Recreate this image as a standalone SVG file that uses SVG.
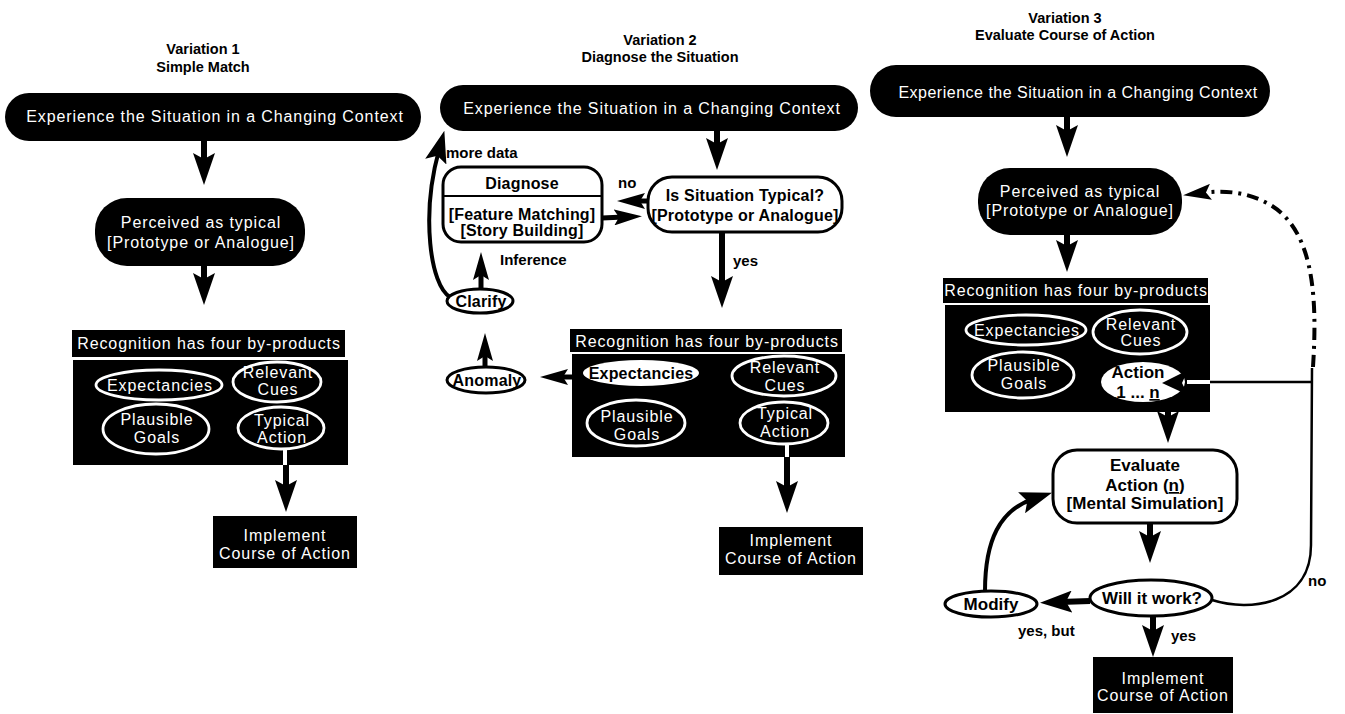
<svg xmlns="http://www.w3.org/2000/svg" width="1345" height="714" viewBox="0 0 1345 714">
<defs>
<style>
.title{font-family:"Liberation Sans",Arial,sans-serif;font-weight:bold;font-size:14.5px;text-anchor:middle;fill:#000}
.wt{font-family:"Liberation Sans",Arial,sans-serif;font-size:16px;letter-spacing:0.9px;fill:#fff;text-anchor:middle}
.bt{font-family:"Liberation Sans",Arial,sans-serif;font-weight:bold;font-size:16px;letter-spacing:0.2px;fill:#000;text-anchor:middle}
.bt3{font-family:"Liberation Sans",Arial,sans-serif;font-weight:bold;font-size:17px;fill:#000;text-anchor:middle}
.lbl{font-family:"Liberation Sans",Arial,sans-serif;font-weight:bold;font-size:15px;fill:#000}
.blk{fill:#000}
.wov{fill:none;stroke:#fff;stroke-width:2.8}
.wfill{fill:#fff;stroke:none}
.bbox{fill:#fff;stroke:#000;stroke-width:3}
.arr{stroke:#000;stroke-width:6;fill:none;marker-end:url(#ah)}
.arrs{stroke:#000;stroke-width:5;fill:none;marker-end:url(#ahs)}
.crv{stroke:#000;stroke-width:4;fill:none;marker-end:url(#ah)}
.thin{stroke:#000;stroke-width:2.5;fill:none}
.wstub{stroke:#fff;stroke-width:4;fill:none}
.dd{stroke:#000;stroke-width:4;fill:none;stroke-dasharray:12 6 3 6;marker-end:url(#ahs)}
</style>
<marker id="ah" markerUnits="userSpaceOnUse" markerWidth="32" markerHeight="22" refX="12" refY="11" orient="auto"><path d="M0,0 L32,11 L0,22 L6,11 Z" fill="#000"/></marker>
<marker id="ahs" markerUnits="userSpaceOnUse" markerWidth="28" markerHeight="16" refX="10" refY="8" orient="auto"><path d="M0,0 L28,8 L0,16 L5,8 Z" fill="#000"/></marker>
</defs>
<rect width="1345" height="714" fill="#fff"/>

<!-- ===== Variation 1 ===== -->
<g id="v1-title">
<text class="title" x="203" y="54">Variation 1</text>
<text class="title" x="203" y="72">Simple Match</text>
</g>
<g id="v1-experience">
<rect class="blk" x="5" y="93" width="416" height="48" rx="24"/>
<text class="wt" x="215" y="122">Experience the Situation in a Changing Context</text>
</g>
<g id="v1-perceived">
<rect class="blk" x="95" y="198" width="210" height="68" rx="32"/>
<text class="wt" x="201" y="228">Perceived as typical</text>
<text class="wt" x="201" y="248">[Prototype or Analogue]</text>
</g>
<g id="v1-recognition">
<rect class="blk" x="72" y="330" width="273" height="27"/>
<text class="wt" x="209" y="349">Recognition has four by-products</text>
<rect class="blk" x="73" y="360" width="275" height="105"/>
<g id="v1-expectancies"><ellipse class="wov" cx="159" cy="385" rx="63" ry="15"/><text class="wt" x="160" y="391">Expectancies</text></g>
<g id="v1-cues"><ellipse class="wov" cx="277" cy="382" rx="44" ry="20"/><text class="wt" x="278" y="378">Relevant</text><text class="wt" x="278" y="395">Cues</text></g>
<g id="v1-goals"><ellipse class="wov" cx="156" cy="429" rx="53" ry="25"/><text class="wt" x="157" y="425">Plausible</text><text class="wt" x="157" y="443">Goals</text></g>
<g id="v1-action"><ellipse class="wov" cx="281" cy="428" rx="43" ry="21"/><text class="wt" x="282" y="426">Typical</text><text class="wt" x="282" y="443">Action</text></g>
</g>
<g id="v1-implement">
<rect class="blk" x="213" y="516" width="144" height="52"/>
<text class="wt" x="285" y="541">Implement</text>
<text class="wt" x="285" y="559">Course of Action</text>
</g>

<!-- ===== Variation 2 ===== -->
<g id="v2-title">
<text class="title" x="660" y="45">Variation 2</text>
<text class="title" x="660" y="62">Diagnose the Situation</text>
</g>
<g id="v2-experience">
<rect class="blk" x="440" y="85" width="418" height="46" rx="23"/>
<text class="wt" x="652" y="114">Experience the Situation in a Changing Context</text>
</g>
<g id="v2-diagnose">
<rect class="bbox" x="443" y="167" width="159" height="75" rx="18"/>
<line x1="443" y1="196" x2="602" y2="196" stroke="#000" stroke-width="2"/>
<text class="bt" x="522" y="189">Diagnose</text>
<text class="bt" x="522" y="220">[Feature Matching]</text>
<text class="bt" x="522" y="236">[Story Building]</text>
</g>
<g id="v2-typical">
<rect class="bbox" x="648" y="177" width="194" height="55" rx="24"/>
<text class="bt" x="745" y="201">Is Situation Typical?</text>
<text class="bt" x="745" y="221">[Prototype or Analogue]</text>
</g>
<g id="v2-clarify">
<ellipse class="bbox" cx="480" cy="301" rx="33" ry="12"/>
<text class="bt" x="481" y="307">Clarify</text>
</g>
<g id="v2-anomaly">
<ellipse class="bbox" cx="486" cy="380" rx="39" ry="13"/>
<text class="bt" x="487" y="386">Anomaly</text>
</g>
<g id="v2-recognition">
<rect class="blk" x="570" y="329" width="272" height="23"/>
<text class="wt" x="707" y="347">Recognition has four by-products</text>
<rect class="blk" x="572" y="354" width="273" height="103"/>
<g id="v2-expectancies"><ellipse class="wfill" cx="641" cy="373" rx="58" ry="13"/><text class="bt" x="641" y="379">Expectancies</text></g>
<g id="v2-cues"><ellipse class="wov" cx="784" cy="376" rx="52" ry="20"/><text class="wt" x="785" y="373">Relevant</text><text class="wt" x="785" y="391">Cues</text></g>
<g id="v2-goals"><ellipse class="wov" cx="636" cy="423" rx="49" ry="23"/><text class="wt" x="637" y="422">Plausible</text><text class="wt" x="637" y="440">Goals</text></g>
<g id="v2-action"><ellipse class="wov" cx="784" cy="423" rx="44" ry="21"/><text class="wt" x="785" y="419">Typical</text><text class="wt" x="785" y="437">Action</text></g>
</g>
<g id="v2-implement">
<rect class="blk" x="719" y="527" width="144" height="48"/>
<text class="wt" x="791" y="546">Implement</text>
<text class="wt" x="791" y="564">Course of Action</text>
</g>

<!-- ===== Variation 3 ===== -->
<g id="v3-title">
<text class="title" x="1065" y="23">Variation 3</text>
<text class="title" x="1065" y="40">Evaluate Course of Action</text>
</g>
<g id="v3-experience">
<rect class="blk" x="870" y="65" width="400" height="52" rx="26"/>
<text class="wt" x="1078" y="98" style="letter-spacing:0.5px">Experience the Situation in a Changing Context</text>
</g>
<g id="v3-perceived">
<rect class="blk" x="978" y="168" width="204" height="67" rx="32"/>
<text class="wt" x="1080" y="197">Perceived as typical</text>
<text class="wt" x="1080" y="216">[Prototype or Analogue]</text>
</g>
<g id="v3-recognition">
<rect class="blk" x="943" y="278" width="265" height="25"/>
<text class="wt" x="1076" y="296">Recognition has four by-products</text>
<rect class="blk" x="945" y="305" width="265" height="107"/>
<g id="v3-expectancies"><ellipse class="wov" cx="1026" cy="330" rx="60" ry="15"/><text class="wt" x="1027" y="336">Expectancies</text></g>
<g id="v3-cues"><ellipse class="wov" cx="1140" cy="332" rx="47" ry="22"/><text class="wt" x="1141" y="330">Relevant</text><text class="wt" x="1141" y="346">Cues</text></g>
<g id="v3-goals"><ellipse class="wov" cx="1023" cy="375" rx="51" ry="23"/><text class="wt" x="1024" y="371">Plausible</text><text class="wt" x="1024" y="389">Goals</text></g>
<g id="v3-action"><ellipse class="wfill" cx="1143" cy="382" rx="42" ry="20"/><text class="bt3" x="1138" y="378">Action</text><text class="bt3" x="1138" y="398">1 ... <tspan text-decoration="underline">n</tspan></text></g>
</g>
<g id="v3-evaluate">
<rect class="bbox" x="1053" y="450" width="184" height="73" rx="24"/>
<text class="bt3" x="1145" y="471">Evaluate</text>
<text class="bt3" x="1145" y="491">Action (<tspan text-decoration="underline">n</tspan>)</text>
<text class="bt3" x="1145" y="509">[Mental Simulation]</text>
</g>
<g id="v3-willwork">
<ellipse class="bbox" cx="1151" cy="598" rx="61" ry="18"/>
<text class="bt3" x="1152" y="604">Will it work?</text>
</g>
<g id="v3-modify">
<ellipse class="bbox" cx="991" cy="604" rx="46" ry="13"/>
<text class="bt3" x="991" y="610">Modify</text>
</g>
<g id="v3-implement">
<rect class="blk" x="1093" y="657" width="140" height="56"/>
<text class="wt" x="1163" y="684">Implement</text>
<text class="wt" x="1163" y="701">Course of Action</text>
</g>

<!-- ===== Connectors ===== -->
<g id="connectors">
<!-- V1 -->
<line class="arr" x1="204" y1="141" x2="204" y2="165"/>
<line class="arr" x1="204" y1="266" x2="204" y2="285"/>
<line class="wstub" x1="285" y1="449" x2="285" y2="465"/>
<line class="arr" x1="286" y1="465" x2="286" y2="492"/>
<!-- V2 -->
<line class="arr" x1="717" y1="131" x2="717" y2="150"/>
<line class="arrs" x1="649" y1="201" x2="635" y2="201"/>
<line class="arrs" x1="602" y1="218" x2="624" y2="217"/>
<line class="arr" x1="722" y1="233" x2="722" y2="288"/>
<line class="arrs" x1="481" y1="289" x2="481" y2="270"/>
<line class="arrs" x1="485" y1="367" x2="485" y2="351"/>
<line class="arrs" x1="574" y1="377" x2="558" y2="377"/>
<path class="crv" d="M 450 297 C 430 285, 421 215, 439 150"/>
<line class="wstub" x1="787" y1="444" x2="787" y2="457"/>
<line class="arr" x1="787" y1="457" x2="787" y2="493"/>
<!-- V3 -->
<line class="arr" x1="1067" y1="117" x2="1067" y2="137"/>
<line class="arr" x1="1067" y1="235" x2="1067" y2="252"/>
<line class="arr" x1="1168" y1="399" x2="1168" y2="423"/>
<line class="arr" x1="1150" y1="523" x2="1150" y2="543"/>
<line class="arr" x1="1090" y1="601" x2="1060" y2="602"/>
<line class="arr" x1="1153" y1="616" x2="1153" y2="637"/>
<path class="crv" d="M 985 591 C 985 540, 1000 510, 1033 499"/>
<path class="thin" d="M 1212 600 C 1250 612, 1311 605, 1311 545 L 1312 368"/>
<line class="thin" x1="1312" y1="382" x2="1209" y2="382"/>
<line class="wstub" x1="1210" y1="382" x2="1187" y2="382" stroke-width="3"/>
<polygon points="1188,370 1162,383 1188,395 1182,383" fill="#000"/>
<path class="dd" d="M 1313 367 C 1318 290, 1312 225, 1265 202 C 1245 192, 1225 190, 1201 193"/>
</g>

<!-- ===== Labels ===== -->
<g id="labels">
<text class="lbl" x="446" y="158">more data</text>
<text class="lbl" x="618" y="188">no</text>
<text class="lbl" x="500" y="265">Inference</text>
<text class="lbl" x="733" y="266">yes</text>
<text class="lbl" x="1018" y="636">yes, but</text>
<text class="lbl" x="1171" y="641">yes</text>
<text class="lbl" x="1308" y="586">no</text>
</g>
</svg>
